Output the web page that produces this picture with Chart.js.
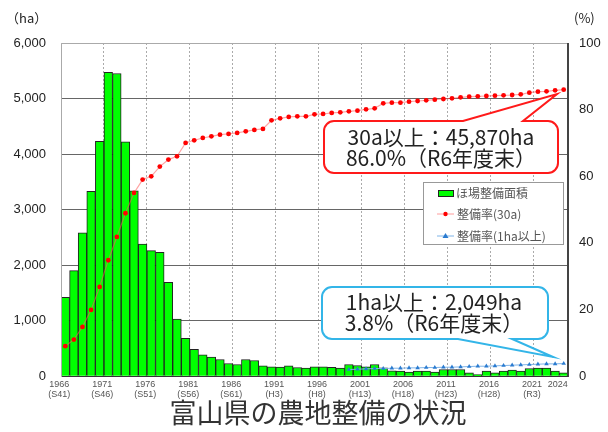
<!DOCTYPE html>
<html>
<head>
<meta charset="utf-8">
<script src="https://cdn.jsdelivr.net/npm/chart.js@4.4.1/dist/chart.umd.min.js"></script>
<style>
  html, body { margin: 0; padding: 0; background: #fff; }
  #wrap { width: 608px; height: 432px; }
</style>
</head>
<body>
<div id="wrap"><canvas id="myChart" width="608" height="432"></canvas></div>
<script>
const years = [
  1966, 1967, 1968, 1969, 1970, 1971, 1972, 1973, 1974, 1975,
  1976, 1977, 1978, 1979, 1980, 1981, 1982, 1983, 1984, 1985,
  1986, 1987, 1988, 1989, 1990, 1991, 1992, 1993, 1994, 1995,
  1996, 1997, 1998, 1999, 2000, 2001, 2002, 2003, 2004, 2005,
  2006, 2007, 2008, 2009, 2010, 2011, 2012, 2013, 2014, 2015,
  2016, 2017, 2018, 2019, 2020, 2021, 2022, 2023, 2024,
];

// ほ場整備面積 (ha)
const area = [
  1420, 1900, 2580, 3330, 4230, 5470, 5450, 4220, 3340, 2380,
  2260, 2230, 1690, 1030, 680, 485, 385, 343, 300, 229,
  211, 301, 283, 186, 168, 162, 186, 157, 144, 168,
  168, 160, 144, 211, 193, 168, 211, 150, 96, 90,
  72, 90, 90, 72, 120, 120, 120, 60, 30, 90,
  60, 90, 108, 90, 138, 144, 144, 90, 60,
];

// 整備率(30a) %
const rate30a = [
  9.0, 11.0, 14.8, 19.9, 26.8, 34.8, 41.8, 48.9, 55.0, 59.0,
  60.0, 62.9, 65.0, 66.0, 70.0, 70.8, 71.5, 72.0, 72.5, 72.7,
  73.0, 73.5, 73.9, 74.2, 76.8, 77.4, 77.8, 78.0, 78.0, 78.6,
  78.7, 79.0, 79.2, 79.5, 79.7, 80.1, 80.4, 81.9, 82.1, 82.1,
  82.4, 82.6, 82.8, 83.0, 83.2, 83.4, 83.7, 83.9, 84.0, 84.1,
  84.2, 84.3, 84.4, 84.6, 85.1, 85.4, 85.5, 85.8, 86.0,
];

// 整備率(1ha以上) %  (1999年から)
const rate1ha = [
  null, null, null, null, null, null, null, null, null, null,
  null, null, null, null, null, null, null, null, null, null,
  null, null, null, null, null, null, null, null, null, null,
  null, null, null, 2.0, 2.1, 2.2, 2.3, 2.3, 2.4, 2.4,
  2.5, 2.5, 2.6, 2.6, 2.7, 2.7, 2.8, 2.9, 3.0, 3.0,
  3.1, 3.2, 3.3, 3.4, 3.5, 3.6, 3.7, 3.7, 3.8,
];

const tickYears = [1966, 1971, 1976, 1981, 1986, 1991, 1996, 2001, 2006, 2011, 2016, 2021, 2024];
const tickEras = ["(S41)", "(S46)", "(S51)", "(S56)", "(S61)", "(H3)", "(H8)", "(H13)", "(H18)", "(H23)", "(H28)", "(R3)", ""];

const JP = "'Noto Sans CJK JP', 'Noto Sans', sans-serif";
Chart.defaults.font.family = "'Liberation Sans', Arial, sans-serif";
Chart.defaults.color = "#222";

function balloon(ctx, x, y, w, h, r, side, b1, b2, tip, color) {
  ctx.beginPath();
  ctx.moveTo(x + r, y);
  if (side === "top") {
    ctx.lineTo(b1, y);
    ctx.lineTo(tip[0], tip[1]);
    ctx.lineTo(b2, y);
  }
  ctx.arcTo(x + w, y, x + w, y + h, r);
  ctx.arcTo(x + w, y + h, x, y + h, r);
  if (side === "bottom") {
    ctx.lineTo(b2, y + h);
    ctx.lineTo(tip[0], tip[1]);
    ctx.lineTo(b1, y + h);
  }
  ctx.arcTo(x, y + h, x, y, r);
  ctx.arcTo(x, y, x + w, y, r);
  ctx.closePath();
  ctx.fillStyle = "#fff";
  ctx.fill();
  ctx.strokeStyle = color;
  ctx.lineWidth = 2;
  ctx.stroke();
}

const extras = {
  id: "extras",
  afterDraw(chart) {
    const { ctx, chartArea: a } = chart;
    ctx.save();

    // frame
    ctx.strokeStyle = "#aaa";
    ctx.lineWidth = 1;
    ctx.beginPath();
    ctx.moveTo(a.left + 0.5, a.bottom);
    ctx.lineTo(a.left + 0.5, a.top + 0.5);
    ctx.lineTo(a.right - 0.5, a.top + 0.5);
    ctx.stroke();
    ctx.strokeStyle = "#444";
    ctx.beginPath();
    ctx.moveTo(a.right - 0.5, a.top);
    ctx.lineTo(a.right - 0.5, a.bottom);
    ctx.stroke();

    // units
    ctx.fillStyle = "#222";
    ctx.font = "13px " + JP;
    ctx.textBaseline = "middle";
    ctx.textAlign = "left";
    ctx.fillText("（ha）", 6, 18);
    ctx.fillText("(%)", 574, 18);

    // legend
    const lx = 423, ly = 182;
    ctx.fillStyle = "#fff";
    ctx.fillRect(lx, ly, 140, 62);
    ctx.strokeStyle = "#999";
    ctx.strokeRect(lx + 0.5, ly + 0.5, 140, 62);
    ctx.font = "12px " + JP;
    ctx.fillStyle = "#555";
    ctx.fillText("ほ場整備面積", 456, 193);
    ctx.fillText("整備率(30a)", 457, 214);
    ctx.fillText("整備率(1ha以上)", 457, 236);
    ctx.fillStyle = "#00ff00";
    ctx.fillRect(438, 190, 15, 6);
    ctx.strokeStyle = "#222";
    ctx.strokeRect(438.5, 190.5, 15, 6);
    ctx.strokeStyle = "rgba(255,90,90,0.6)";
    ctx.beginPath(); ctx.moveTo(437, 214); ctx.lineTo(454, 214); ctx.stroke();
    ctx.fillStyle = "#ff0000";
    ctx.beginPath(); ctx.arc(445.5, 214, 2.2, 0, Math.PI * 2); ctx.fill();
    ctx.strokeStyle = "#7fb4e8";
    ctx.beginPath(); ctx.moveTo(437, 236); ctx.lineTo(454, 236); ctx.stroke();
    ctx.fillStyle = "#2a7bd0";
    ctx.beginPath(); ctx.moveTo(445.5, 233); ctx.lineTo(448.5, 238); ctx.lineTo(442.5, 238); ctx.closePath(); ctx.fill();

    // callouts
    balloon(ctx, 324, 121, 234, 52, 10, "top", 463, 523, [557, 94], "#ff1a1a");
    balloon(ctx, 322, 287, 226, 52, 10, "bottom", 458, 512, [553, 357], "#33b5e8");
    ctx.fillStyle = "#222";
    ctx.font = "21px " + JP;
    ctx.textAlign = "center";
    ctx.fillText("30a以上：45,870ha", 441, 137);
    ctx.fillText("86.0%（R6年度末）", 441, 158);
    ctx.fillText("1ha以上：2,049ha", 434, 302);
    ctx.fillText("3.8%（R6年度末）", 434, 323);

    // title
    ctx.fillStyle = "#333";
    ctx.font = "27px " + JP;
    ctx.fillText("富山県の農地整備の状況", 318, 413);
    ctx.restore();
  },
};

const ctx = document.getElementById("myChart");

const chart = new Chart(ctx, {
  type: "bar",
  data: {
    labels: years,
    datasets: [
      {
        type: "line",
        label: "整備率(30a)",
        data: rate30a,
        yAxisID: "y1",
        borderColor: "rgba(255,90,90,0.55)",
        borderWidth: 1.2,
        pointBackgroundColor: "#ff0000",
        pointBorderWidth: 0,
        pointRadius: 2.4,
        order: 1,
      },
      {
        type: "line",
        label: "整備率(1ha以上)",
        data: rate1ha,
        yAxisID: "y1",
        borderColor: "#7fb4e8",
        borderWidth: 1,
        pointStyle: "triangle",
        pointBackgroundColor: "#2a7bd0",
        pointBorderWidth: 0,
        pointRadius: 2.6,
        order: 1,
      },
      {
        label: "ほ場整備面積",
        data: area,
        yAxisID: "y",
        backgroundColor: "#00ff00",
        borderColor: "#222",
        borderWidth: 1,
        barPercentage: 1,
        categoryPercentage: 1,
        order: 2,
      },
    ],
  },
  options: {
    responsive: false,
    animation: false,
    layout: {
      autoPadding: false,
      padding: { left: 0, right: 0, top: 43, bottom: 30 },
    },
    scales: {
      x: {
        grid: {
          color: (c) => (c.index > 0 && c.index < 58 && c.index % 5 === 0 ? "#aaa" : "rgba(0,0,0,0)"),
          drawTicks: false,
        },
        border: { display: true, color: "#333", dash: [2, 2] },
        ticks: {
          autoSkip: false,
          maxRotation: 0,
          minRotation: 0,
          padding: 3,
          labelOffset: -6,
          color: "#555",
          font: { size: 9, lineHeight: 1.1 },
          callback: (value, index) => {
            const k = tickYears.indexOf(years[index]);
            return k < 0 ? "" : [String(years[index]), tickEras[k]];
          },
        },
      },
      y: {
        min: 0,
        max: 6000,
        afterFit: (scale) => { scale.width = 61; },
        grid: { color: "#666", drawTicks: false },
        border: { color: "#bbb" },
        ticks: { stepSize: 1000, padding: 15, font: { size: 13 } },
      },
      y1: {
        position: "right",
        min: 0,
        max: 100,
        afterFit: (scale) => { scale.width = 40; },
        grid: { drawOnChartArea: false, drawTicks: false },
        border: { color: "#444" },
        ticks: { stepSize: 20, padding: 11, font: { size: 13 } },
      },
    },
    plugins: {
      legend: { display: false },
      tooltip: { enabled: false },
    },
  },
  plugins: [extras],
});
</script>
</body>
</html>
